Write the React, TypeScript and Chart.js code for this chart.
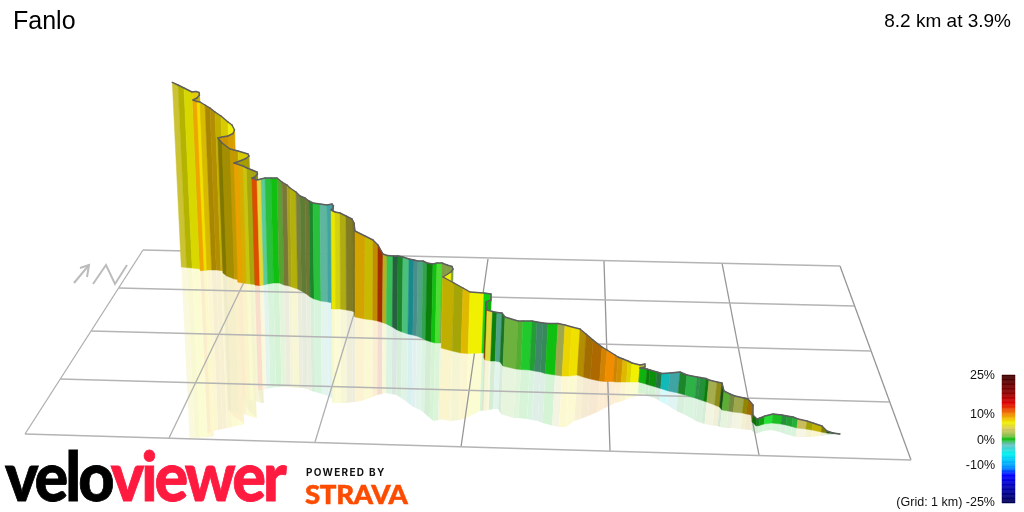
import React, { useEffect, useRef } from "react";
import { Chart, registerables } from "chart.js";

Chart.register(...registerables);

// Route profile stations (upper end of the climb first)
const stationX = [
  172.3, 178, 184, 192, 196, 199, 199.5, 197,
  193, 197, 200, 205, 210, 215, 221, 228, 232, 234.5, 233, 228, 222,
  218, 222, 230, 238, 248, 249, 246, 240,
  234, 238.5, 243, 247, 252, 257, 257.5, 255,
  252, 257, 261, 265, 271, 277, 282, 287, 290, 296, 300, 305, 309, 313, 320, 327, 332, 333.5, 332.5,
  331, 335, 340, 346, 352, 354,
  355, 365, 373, 378, 383, 387, 393, 398, 403, 409, 414, 418, 423, 427, 433, 437, 442, 447, 452, 453, 451, 447,
  443, 454, 463, 470, 484, 491, 491,
  486, 487, 492.5, 497, 502, 505, 518, 523, 532, 537, 543, 548, 558, 565, 572, 580, 586, 593, 602, 607, 615, 618, 623, 628, 632, 640, 645, 645,
  640, 647, 650, 657, 662, 670, 680, 687, 697, 700, 706, 709, 717, 722, 724, 730, 735, 744, 748, 753, 753,
  757, 760, 765, 773, 782, 787, 793, 798, 807, 813, 822, 827, 833, 840,
];
const summitY = [
  82.3, 85, 88, 92, 91.5, 92.5, 95, 98,
  100, 101.5, 102, 105, 108, 112, 116, 122, 125, 130, 133.5, 136, 137,
  138, 143, 149, 151, 154, 156, 158.5, 161,
  163, 164.5, 166, 168, 170, 172, 174, 177,
  178, 180, 179, 178, 178, 178, 182, 185, 188, 192, 196, 198, 201, 203, 204, 205, 204, 206, 208.5,
  210, 212, 213, 216, 219, 223,
  231, 236, 240, 245, 254, 255.5, 256, 256, 257, 259, 260, 261, 261, 263, 264, 263, 263, 265, 266.5, 269, 272, 274.5,
  277, 283, 288, 292, 293, 294, 300,
  302, 310, 311.5, 312.5, 313, 317, 321, 321, 321, 322, 323, 323.5, 323.5, 325, 327, 329, 334, 340, 347, 350, 355, 357, 359, 361, 363, 365, 364, 367,
  368, 369, 370, 372, 373.5, 373, 372, 375, 377, 377.5, 378.5, 380, 382, 383, 391, 394, 396, 398, 399, 405, 415,
  419, 418, 416, 414, 415, 416, 417, 419, 421, 423, 426, 431, 433, 434,
];
const groundY = [
  267, 267.5, 268, 269, 269.5, 270, 270, 270,
  270.5, 270, 270, 270, 270, 270.5, 271, 272, 273, 274, 274, 274, 274,
  273, 276, 279, 280, 281, 281, 281, 281,
  282, 283, 283.5, 284, 284.5, 285, 285, 285,
  285, 285.5, 285, 284, 283, 283, 285, 286, 287, 289, 291, 294, 297, 299, 301, 302, 303, 303, 303,
  309, 309, 309, 310, 311, 312,
  317, 319, 320, 321, 322.5, 324, 327, 330, 332, 334, 335, 336, 338, 340, 342, 343, 343, 343, 343, 343, 343, 343,
  348, 351, 353, 353.5, 353, 353, 355,
  358, 360, 361, 361, 362, 366, 369, 369.5, 370, 371, 372, 373.5, 375, 376, 376, 375, 377, 379, 381, 381.5, 381.5, 382, 382, 382, 382, 382, 382, 382.5,
  382, 384, 385, 387, 388.5, 391, 393, 395, 398, 399, 401, 402, 405, 407, 410, 411, 412, 413, 414, 415, 422,
  426, 425.5, 424, 423, 424, 425, 426.5, 428, 429, 430, 432, 433, 433.5, 434,
];
const mirrorY = [
  438, 438, 437.5, 437, 437, 436.5, 436, 435,
  433, 432, 431, 430, 429, 428, 427, 425.5, 425, 424, 422, 419, 415,
  410, 411, 412, 415, 418, 418, 415, 410,
  398, 399, 400, 401, 402, 403, 403, 403,
  390, 390, 389, 388, 387, 387, 387, 387, 388, 388, 388, 389, 391, 392, 394, 396, 399, 400, 401,
  403, 403, 403, 403, 402, 402,
  402, 400, 397, 395, 394, 393, 394, 395, 398, 402, 406, 408, 410, 413, 418, 421, 420, 419, 419, 419, 419, 419,
  419, 421, 420, 418, 411, 410, 410,
  410, 411, 410, 409, 409, 414, 418, 418, 419, 420, 421, 423, 425.5, 427, 427, 421, 419, 416, 412, 409, 405, 403, 402, 400, 398, 396, 396, 396,
  393, 394, 396, 398, 401, 405, 411, 414, 419, 421, 423, 424, 425.5, 426, 427, 428, 428, 429, 429.5, 430, 430,
  434, 433, 431, 430, 432, 434, 435.5, 437, 437, 437, 436, 435, 434.5, 434,
];
// Gradient (%) of the stretch from each station to the next
const stretchGrade = [
  5, 6.5, 6.5, 7.3, 7.3, 7.3, 7, 7,
  8.8, 7, 7.5, 8, 8, 7.2, 7, 6.5, 6.5, 8.5, 8.5, 8.5, 8.5,
  7, 7.5, 8, 7, 7, 7, 7, 7,
  8.8, 8, 6, 6, 6, 6, 6, 6,
  11.5, 5, -1.5, -0.5, 0, 1, 3.5, 5.5, 6.2, 3, 1.5, 3, -0.5, -0.5, -1.7, -3, -3, -3, -3,
  6.6, 6, 6, 5, 5, 5,
  8.2, 7, 8.5, 12, 5.5, -0.8, -1.3, -0.5, -1.2, -4.5, -2.2, -1.6, -0.9, 0, 0, 0.6, 2, 2, 2, 2, 6.5, 6.5,
  7.2, 6.2, 7.8, 6.5, 0, 0, 0,
  10.5, 5, 0, -1.6, -0.5, 1.2, 0.9, -0.3, -0.5, -1.5, -1.2, 0, 3, 7.2, 7, 8, 9, 9.5, 9.3, 9.6, 9.3, 8.8, 7.8, 6.9, 6.5, 5, 5, 5,
  0, 0, 0, -1, -5, -3, -0.5, -0.7, -0.9, -0.7, 0, 3, 5.5, 0.5, 1, 2, 3, 7, 8.8, 8.8, 0,
  -0.3, 0, -0.3, -0.2, -0.7, -0.5, -0.5, 3.8, 6.5, 7.2, 6.5, 0.5, 0.5, 0.5,
];
// Brightness of each stretch's wall under the scene's light
const stretchLight = [
  0.9, 0.75, 0.9, 0.95, 0.95, 0.9, 0.8, 0.8,
  1, 1, 0.9, 0.7, 0.74, 0.8, 0.9, 1, 1, 0.9, 0.9, 0.85, 0.85,
  0.53, 0.68, 0.8, 0.9, 0.9, 0.7, 0.7, 0.7,
  0.97, 0.9, 0.85, 0.72, 0.7, 0.7, 0.6, 0.6,
  0.95, 1, 1.05, 1, 1, 0.85, 0.6, 0.72, 0.75, 0.65, 0.65, 0.6, 0.7, 1, 0.95, 0.8, 0.7, 0.6, 0.6,
  0.97, 0.9, 0.74, 0.58, 0.55, 0.5,
  0.88, 0.83, 0.8, 0.7, 0.78, 1, 0.5, 0.7, 1, 0.62, 0.72, 0.85, 0.85, 0.67, 1, 1.15, 0.82, 0.82, 0.82, 0.8, 1, 1,
  0.8, 0.7, 0.93, 1, 1.1, 1, 0.9,
  0.52, 1, 0.67, 0.85, 0.6, 0.92, 0.9, 1.05, 0.83, 0.7, 0.72, 1, 0.85, 0.98, 1, 0.74, 0.68, 0.72, 0.87, 1, 0.87, 0.87, 0.93, 0.93, 1, 0.85, 0.8, 0.8,
  0.93, 0.65, 0.75, 0.6, 0.8, 0.8, 0.7, 0.92, 0.75, 0.75, 0.65, 0.88, 0.62, 0.42, 0.9, 0.72, 0.85, 0.6, 0.66, 0.6, 0.58,
  0.67, 0.84, 1.17, 1, 0.75, 0.83, 0.92, 0.95, 0.67, 0.8, 0.53, 0.4, 0.4, 0.4,
];

// Legend colour scale
const scaleGrades = [25, 18, 14, 10, 7.5, 6.5, 4, 1.5, 0, -2, -5.7, -11, -14, -25];
const scaleColors = ["#400000", "#900000", "#e00000", "#f08000", "#f0d000", "#f0f000", "#d8c860", "#90c050", "#10c010", "#70c0c0", "#00f0f0", "#0090ff", "#0000ff", "#000050"];
const legendTicks = ["25%", "10%", "0%", "-10%"];

// Ground grid, 1 km squares, as [x0, y0, x1, y1]
const gridRows = [
  [143, 250, 840, 266],
  [119, 288, 854, 306],
  [91, 331, 871, 351],
  [60, 379, 889, 402],
  [25, 434, 911, 460],
];
const gridColumns = [
  [143, 250, 25, 434],
  [258, 253, 169, 438],
  [372, 255, 315, 442],
  [488, 259, 461, 447],
  [604, 261, 610, 451],
  [722, 263, 759, 455],
  [840, 266, 911, 460],
];
// North marker
const arrowShaft = [[74, 283], [89, 265]];
const arrowHead = [[80, 268], [89, 265], [87, 277]];
const northN = [[93, 284], [106, 265], [115, 284], [127, 265]];

const VANISH_X = 357;
const VANISH_Y = 3887;
const leanX = (x: number, fromY: number, toY: number) => x + ((VANISH_X - x) * (toY - fromY)) / (VANISH_Y - fromY);

const hex = (c: string) => [1, 3, 5].map((i) => parseInt(c.slice(i, i + 2), 16));
function gradeRgb(g: number, light = 1): number[] {
  let k = 0;
  while (k < scaleGrades.length - 2 && g < scaleGrades[k + 1]) k++;
  const t = (scaleGrades[k] - g) / (scaleGrades[k] - scaleGrades[k + 1]);
  const a = hex(scaleColors[k]);
  const b = hex(scaleColors[k + 1]);
  return a.map((v, i) => Math.min(255, Math.round((v + (b[i] - v) * t) * light)));
}

const polygonPlugin = {
  id: "polygons",
  beforeDatasetDraw(chart: any, args: any) {
    const ds = chart.data.datasets[args.index];
    if (!ds.polygon) return;
    const pts = args.meta.data;
    const ctx = chart.ctx;
    ctx.save();
    ctx.beginPath();
    pts.forEach((p: any, i: number) => (i ? ctx.lineTo(p.x, p.y) : ctx.moveTo(p.x, p.y)));
    ctx.closePath();
    ctx.fillStyle = ds.polygon;
    ctx.fill();
    if (ds.seam) {
      ctx.strokeStyle = ds.polygon;
      ctx.lineWidth = 0.5;
      ctx.stroke();
    }
    if (ds.edge) {
      ctx.beginPath();
      ctx.moveTo(pts[0].x, pts[0].y);
      ctx.lineTo(pts[1].x, pts[1].y);
      ctx.strokeStyle = ds.edge;
      ctx.lineWidth = 1.4;
      ctx.lineCap = "round";
      ctx.stroke();
    }
    ctx.restore();
  },
};

const polygonBase = { showLine: false, pointRadius: 0, pointHoverRadius: 0, borderWidth: 0, fill: false, clip: false };
const lineBase = { pointRadius: 0, pointHoverRadius: 0, fill: false, tension: 0, clip: false };
const toXY = (pts: number[][]) => pts.map(([x, y]) => ({ x, y }));

function buildDatasets() {
  const out: any[] = [];
  const n = stationX.length;
  for (let i = 0; i < n - 1; i++) {
    const j = i + 1;
    const bi = leanX(stationX[i], summitY[i], groundY[i]);
    const bj = leanX(stationX[j], summitY[j], groundY[j]);
    const [r, g, b] = gradeRgb(stretchGrade[i], stretchLight[i]);
    out.push({
      ...polygonBase,
      order: -i,
      polygon: `rgb(${r},${g},${b})`,
      seam: true,
      edge: "#5e5e5e",
      data: toXY([[stationX[i], summitY[i]], [stationX[j], summitY[j]], [bj, groundY[j]], [bi, groundY[i]]]),
    });
    const pale = gradeRgb(stretchGrade[i], Math.min(1, stretchLight[i] + 0.15)).map((v) => Math.round(255 + (v - 255) * 0.2));
    out.push({
      ...polygonBase,
      order: 2000 + n - i,
      polygon: `rgba(${pale[0]},${pale[1]},${pale[2]},0.88)`,
      data: toXY([[bi, groundY[i]], [bj, groundY[j]], [leanX(bj, groundY[j], mirrorY[j]), mirrorY[j]], [leanX(bi, groundY[i], mirrorY[i]), mirrorY[i]]]),
    });
  }
  gridRows.forEach(([a, b, c, d]) =>
    out.push({ ...lineBase, order: 1000, borderColor: "#b4b4b4", borderWidth: 1.6, data: toXY([[a, b], [c, d]]) })
  );
  gridColumns.forEach(([a, b, c, d], k) =>
    out.push({ ...lineBase, order: 1000, borderColor: k < 3 ? "#b0b0b0" : "#969696", borderWidth: 1.3, data: toXY([[a, b], [c, d]]) })
  );
  [arrowShaft, arrowHead, northN].forEach((pts) =>
    out.push({ ...lineBase, order: 1000, borderColor: "#bcbcbc", borderWidth: 2, data: toXY(pts) })
  );
  for (let g = 25; g > -25; g -= 0.5) {
    const [r, gg, b] = gradeRgb(g - 0.25);
    out.push({
      ...polygonBase,
      order: -5000,
      yAxisID: "grade",
      polygon: `rgb(${r},${gg},${b})`,
      seam: true,
      data: toXY([[1002, g], [1015, g], [1015, g - 0.5], [1002, g - 0.5]]),
    });
  }
  return out;
}

const text = (style: React.CSSProperties): React.CSSProperties => ({
  position: "absolute",
  whiteSpace: "nowrap",
  lineHeight: 1,
  color: "#111",
  fontFamily: '"Liberation Sans", sans-serif',
  ...style,
});

export default function App() {
  const ref = useRef<HTMLCanvasElement>(null);
  useEffect(() => {
    const chart = new Chart(ref.current as HTMLCanvasElement, {
      type: "line",
      data: { datasets: buildDatasets() },
      plugins: [polygonPlugin],
      options: {
        responsive: false,
        animation: false,
        events: [],
        layout: { padding: 0 },
        plugins: { legend: { display: false }, tooltip: { enabled: false }, title: { display: false } },
        scales: {
          x: { type: "linear", min: 0, max: 1024, display: false },
          y: { type: "linear", min: 0, max: 512, reverse: true, display: false },
          grade: { type: "linear", min: -28.52, max: 171.48, display: false },
        },
      },
    } as any);
    return () => chart.destroy();
  }, []);

  const tickTop = [369, 408, 434, 459];
  return (
    <div style={{ position: "absolute", left: 0, top: 0, width: 1024, height: 512, overflow: "hidden", background: "#fff" }}>
      <canvas ref={ref} width={1024} height={512} style={{ display: "block", width: 1024, height: 512 }} />
      <div style={text({ left: 13, top: 8, fontSize: 25, color: "#000" })}>Fanlo</div>
      <div style={text({ right: 13, top: 11, fontSize: 19, color: "#000" })}>8.2 km at 3.9%</div>
      {legendTicks.map((t, i) => (
        <div key={t} style={text({ right: 29, top: tickTop[i], fontSize: 12.5 })}>{t}</div>
      ))}
      <div style={text({ right: 29, top: 496, fontSize: 12.5 })}>(Grid: 1 km) -25%</div>
      <div
        style={text({
          left: 5,
          top: 441,
          fontSize: 68,
          fontWeight: 900,
          fontFamily: "Lato, sans-serif",
          letterSpacing: -3.2,
          color: "#000",
          transform: "scaleX(0.925)",
          transformOrigin: "left top",
          WebkitTextStroke: "0.8px currentColor",
        } as React.CSSProperties)}
      >
        velo<span style={{ color: "#ff1a40" }}>viewer</span>
      </div>
      <div style={text({ left: 306, top: 467, fontSize: 10, fontWeight: 700, fontFamily: "Inter, sans-serif", letterSpacing: 1.3, color: "#111" })}>POWERED BY</div>
      <div
        style={text({
          left: 305,
          top: 481,
          fontSize: 26,
          fontWeight: 900,
          fontFamily: "Lato, sans-serif",
          letterSpacing: -0.3,
          color: "#fc4c02",
          transform: "scaleX(1.06)",
          transformOrigin: "left top",
          WebkitTextStroke: "0.5px #fc4c02",
        } as React.CSSProperties)}
      >
        STRAVA
      </div>
    </div>
  );
}
